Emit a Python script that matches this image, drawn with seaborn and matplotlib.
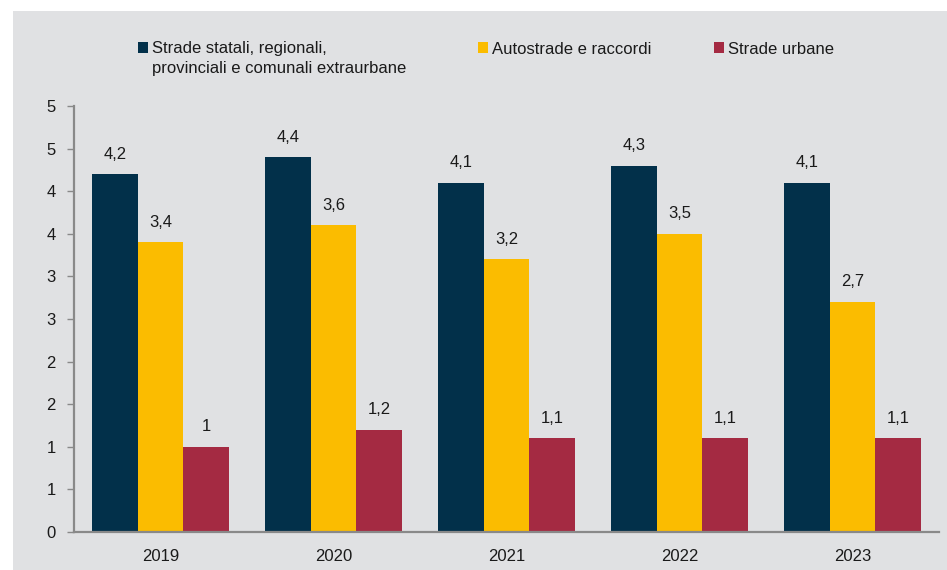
import matplotlib
matplotlib.use("Agg")
import matplotlib.pyplot as plt
import matplotlib.ticker as mticker
from matplotlib.patches import Rectangle
import seaborn as sns
import pandas as pd
import numpy as np

years = ["2019", "2020", "2021", "2022", "2023"]
series = ["Strade statali, regionali, provinciali e comunali extraurbane",
          "Autostrade e raccordi",
          "Strade urbane"]
extraurbane = [4.2, 4.4, 4.1, 4.3, 4.1]
autostrade = [3.4, 3.6, 3.2, 3.5, 2.7]
urbane = [1.0, 1.2, 1.1, 1.1, 1.1]
colors = ["#02304a", "#fbbc00", "#a42a42"]

df = pd.DataFrame({
    "anno": years * 3,
    "serie": [series[0]] * 5 + [series[1]] * 5 + [series[2]] * 5,
    "valore": extraurbane + autostrade + urbane,
})

sns.set_style("white")
plt.rcParams["font.family"] = ["Liberation Sans", "DejaVu Sans"]

W, H = 947, 570
bg = "#e0e1e3"
txt = "#1a1a1a"
fig = plt.figure(figsize=(W / 100, H / 100), dpi=100)
fig.patch.set_facecolor("white")
fig.patches.append(Rectangle((13 / W, 0), 1, 559 / H, transform=fig.transFigure,
                             facecolor=bg, edgecolor="none", zorder=-10))
ax = fig.add_axes([74 / W, 1 - 532 / H, (939 - 74) / W, (532 - 106) / H])
ax.set_facecolor(bg)

sns.barplot(data=df, x="anno", y="valore", hue="serie", hue_order=series,
            palette=colors, width=0.79, linewidth=0, saturation=1, ax=ax)

for cont in ax.containers:
    ax.bar_label(cont, labels=[f"{v:g}".replace(".", ",") for v in cont.datavalues],
                 padding=9, fontsize=12, color=txt)

ax.set_ylim(0, 5)
ax.set_xlim(-0.5, 4.5)
ax.yaxis.set_major_locator(mticker.MultipleLocator(0.5))
# etichette arrotondate all'intero come nell'originale (0,5 -> 1)
ax.yaxis.set_major_formatter(mticker.FuncFormatter(lambda v, p: f"{int(np.floor(v + 0.5))}"))
ax.set_xticks(np.arange(-0.5, 5, 1), minor=True)
ax.tick_params(axis="x", which="major", length=0, pad=12, labelsize=12, labelcolor=txt)
ax.tick_params(axis="x", which="minor", length=4, width=1, color="#898989", direction="out")
ax.tick_params(axis="y", length=5, width=1, color="#898989", direction="out", pad=8,
               labelsize=12, labelcolor=txt, left=True)
ax.set_xlabel("")
ax.set_ylabel("")
for s in ["top", "right"]:
    ax.spines[s].set_visible(False)
for s in ["left", "bottom"]:
    ax.spines[s].set_color("#898989")
    ax.spines[s].set_linewidth(1.6)

handles, labels = ax.get_legend_handles_labels()
ax.legend_.remove()

# una legenda per voce, posizionate come nell'originale
leg_x = [138, 478, 714]
leg_labels = ["Strade statali, regionali,", series[1], series[2]]
legs = []
for h, lab, x in zip(handles, leg_labels, leg_x):
    lg = fig.legend([h], [lab], loc="center left", bbox_to_anchor=(x / W, 1 - 49 / H),
                    frameon=False, fontsize=12, handlelength=0.6, handleheight=0.6,
                    handletextpad=0.25, borderaxespad=0, borderpad=0,
                    labelcolor=txt)
    legs.append(lg)

fig.canvas.draw()
bb = legs[0].get_texts()[0].get_window_extent()
fig.text(bb.x0 / W, bb.y0 / H - 19 / H, "provinciali e comunali extraurbane",
         fontsize=12, color=txt, ha="left", va="bottom")

fig.savefig("out.png", dpi=100, facecolor=fig.get_facecolor())
